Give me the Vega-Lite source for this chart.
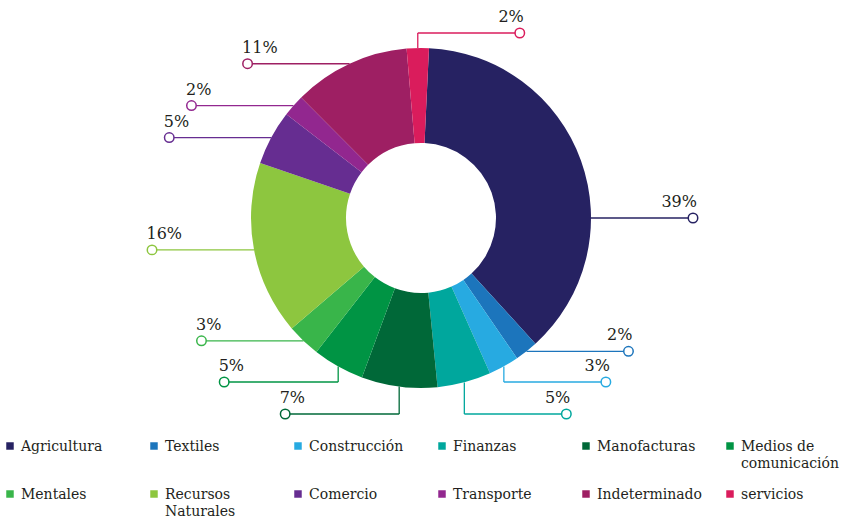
{
  "$schema": "https://vega.github.io/schema/vega-lite/v6.json",
  "width": 847,
  "height": 520,
  "autosize": {"type": "none"},
  "padding": 0,
  "background": "white",
  "config": {"view": {"stroke": null}},
  "data": {
    "values": [
      {"category": "Agricultura", "share": 37.5, "pct": 39},
      {"category": "Textiles", "share": 2.2, "pct": 2},
      {"category": "Construcción", "share": 2.9, "pct": 3},
      {"category": "Finanzas", "share": 5.1, "pct": 5},
      {"category": "Manofacturas", "share": 7.2, "pct": 7},
      {"category": "Medios de comunicación", "share": 4.9, "pct": 5},
      {"category": "Mentales", "share": 3.2, "pct": 3},
      {"category": "Recursos Naturales", "share": 16.5, "pct": 16},
      {"category": "Comercio", "share": 5.2, "pct": 5},
      {"category": "Transporte", "share": 2.1, "pct": 2},
      {"category": "Indeterminado", "share": 11.1, "pct": 11},
      {"category": "servicios", "share": 2.1, "pct": 2}
    ]
  },
  "transform": [
    {"window": [{"op": "row_number", "as": "i"}]},
    {"joinaggregate": [{"op": "sum", "field": "share", "as": "total"}]},
    {"window": [{"op": "sum", "field": "share", "as": "cum"}], "sort": [{"field": "i"}], "frame": [null, 0]},
    {"calculate": "0.047 + 2*PI*(datum.cum - datum.share/2)/datum.total", "as": "m"},
    {"calculate": "datum.share/datum.total > 0.25 ? (sin(datum.m) >= 0 ? PI/2 : -PI/2) : datum.m", "as": "am"},
    {"calculate": "170*sin(datum.am)", "as": "ax"},
    {"calculate": "-170*cos(datum.am)", "as": "ay"},
    {"calculate": "cos(datum.am) < -0.85 ? 1 : (cos(datum.am) > 0.99 ? -1 : 0)", "as": "elb"},
    {"calculate": "datum.elb == 1 ? (abs(sin(datum.am)) > 0.35 ? 164 : 196) : (datum.elb == -1 ? -185 : datum.ay)", "as": "ly"},
    {"calculate": "datum.elb == -1 ? 1 : (sin(datum.am) >= 0 ? 1 : -1)", "as": "dir"},
    {"calculate": "datum.ax + datum.dir*((datum.elb == 1 && datum.dir < 0) ? 114 : 102)", "as": "cx"},
    {"calculate": "datum.pct + '%'", "as": "lbl"},
    {"calculate": "-411 + ((datum.i - 1) % 6)*144", "as": "lgx"},
    {"calculate": "228 + floor((datum.i - 1)/6)*48", "as": "lgy"},
    {"calculate": "(length(datum.category) > 14 && lastindexof(datum.category, ' ') > 0) ? substring(datum.category, 0, lastindexof(datum.category, ' ')) + '\\n' + substring(datum.category, lastindexof(datum.category, ' ') + 1) : datum.category", "as": "lgtext"}
  ],
  "layer": [
    {
      "mark": {"type": "arc", "innerRadius": 75, "outerRadius": 170},
      "encoding": {
        "theta": {"field": "share", "type": "quantitative", "stack": true, "scale": {"range": [0.047, 6.3302]}},
        "order": {"field": "i", "type": "quantitative"},
        "color": {"field": "category", "type": "nominal", "legend": null,
          "scale": {"domain": ["Agricultura", "Textiles", "Construcción", "Finanzas", "Manofacturas", "Medios de comunicación", "Mentales", "Recursos Naturales", "Comercio", "Transporte", "Indeterminado", "servicios"],
            "range": ["#262262", "#1C75BC", "#27AAE1", "#00A79D", "#006838", "#009444", "#39B54A", "#8DC63F", "#662D91", "#92278F", "#9E1F63", "#DA1C5C"]}},
        "x": {"datum": 0, "type": "quantitative", "scale": {"domain": [-421, 426], "nice": false, "zero": false}, "axis": null},
        "y": {"datum": 0, "type": "quantitative", "scale": {"domain": [-218, 302], "nice": false, "zero": false, "reverse": true}, "axis": null}
      }
    },
    {
      "transform": [{"filter": "datum.elb != 0"}],
      "mark": {"type": "rule", "strokeWidth": 1.3},
      "encoding": {
        "x": {"field": "ax", "type": "quantitative", "scale": {"domain": [-421, 426], "nice": false, "zero": false}, "axis": null},
        "x2": {"field": "ax"},
        "y": {"field": "ay", "type": "quantitative", "scale": {"domain": [-218, 302], "nice": false, "zero": false, "reverse": true}, "axis": null},
        "y2": {"field": "ly"},
        "color": {"field": "category", "type": "nominal", "legend": null}
      }
    },
    {
      "mark": {"type": "rule", "strokeWidth": 1.3},
      "encoding": {
        "x": {"field": "ax", "type": "quantitative", "scale": {"domain": [-421, 426], "nice": false, "zero": false}, "axis": null},
        "x2": {"field": "cx"},
        "y": {"field": "ly", "type": "quantitative", "scale": {"domain": [-218, 302], "nice": false, "zero": false, "reverse": true}, "axis": null},
        "color": {"field": "category", "type": "nominal", "legend": null}
      }
    },
    {
      "mark": {"type": "point", "shape": "circle", "filled": false, "fill": "white", "size": 90, "strokeWidth": 1.5, "opacity": 1},
      "encoding": {
        "x": {"field": "cx", "type": "quantitative", "scale": {"domain": [-421, 426], "nice": false, "zero": false}, "axis": null},
        "y": {"field": "ly", "type": "quantitative", "scale": {"domain": [-218, 302], "nice": false, "zero": false, "reverse": true}, "axis": null},
        "color": {"field": "category", "type": "nominal", "legend": null}
      }
    },
    {
      "transform": [{"filter": "datum.dir < 0"}],
      "mark": {"type": "text", "align": "left", "baseline": "alphabetic", "dx": -5.5, "dy": -11, "fontSize": 16, "font": "DejaVu Serif", "color": "#231F20"},
      "encoding": {
        "x": {"field": "cx", "type": "quantitative", "scale": {"domain": [-421, 426], "nice": false, "zero": false}, "axis": null},
        "y": {"field": "ly", "type": "quantitative", "scale": {"domain": [-218, 302], "nice": false, "zero": false, "reverse": true}, "axis": null},
        "text": {"field": "lbl", "type": "nominal"}
      }
    },
    {
      "transform": [{"filter": "datum.dir > 0"}],
      "mark": {"type": "text", "align": "right", "baseline": "alphabetic", "dx": 4, "dy": -11, "fontSize": 16, "font": "DejaVu Serif", "color": "#231F20"},
      "encoding": {
        "x": {"field": "cx", "type": "quantitative", "scale": {"domain": [-421, 426], "nice": false, "zero": false}, "axis": null},
        "y": {"field": "ly", "type": "quantitative", "scale": {"domain": [-218, 302], "nice": false, "zero": false, "reverse": true}, "axis": null},
        "text": {"field": "lbl", "type": "nominal"}
      }
    },
    {
      "mark": {"type": "square", "size": 56, "opacity": 1},
      "encoding": {
        "x": {"field": "lgx", "type": "quantitative", "scale": {"domain": [-421, 426], "nice": false, "zero": false}, "axis": null},
        "y": {"field": "lgy", "type": "quantitative", "scale": {"domain": [-218, 302], "nice": false, "zero": false, "reverse": true}, "axis": null},
        "color": {"field": "category", "type": "nominal", "legend": null}
      }
    },
    {
      "mark": {"type": "text", "align": "left", "baseline": "alphabetic", "dx": 11, "dy": 5, "fontSize": 14, "font": "DejaVu Serif", "color": "#231F20", "lineBreak": "\n", "lineHeight": 17},
      "encoding": {
        "x": {"field": "lgx", "type": "quantitative", "scale": {"domain": [-421, 426], "nice": false, "zero": false}, "axis": null},
        "y": {"field": "lgy", "type": "quantitative", "scale": {"domain": [-218, 302], "nice": false, "zero": false, "reverse": true}, "axis": null},
        "text": {"field": "lgtext", "type": "nominal"}
      }
    }
  ]
}
